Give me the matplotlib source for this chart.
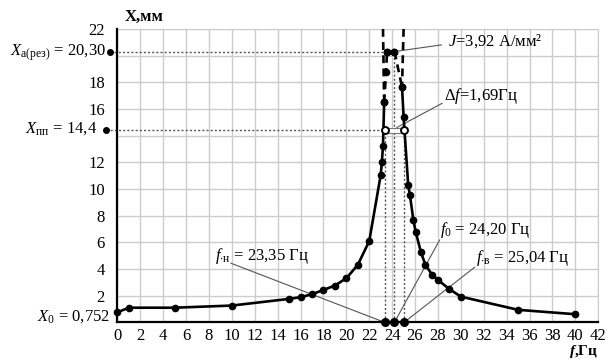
import matplotlib
matplotlib.use("Agg")
import matplotlib.pyplot as plt
from matplotlib.patches import Rectangle

plt.rcParams["font.family"] = ["Liberation Serif", "DejaVu Serif"]
plt.rcParams["mathtext.fontset"] = "custom"
plt.rcParams["mathtext.rm"] = "Liberation Serif"
plt.rcParams["mathtext.it"] = "Liberation Serif:italic"
plt.rcParams["mathtext.bf"] = "Liberation Serif:bold"
plt.rcParams["mathtext.bfit"] = "Liberation Serif:italic:bold"

# resonance curve
f_left = [0, 1, 5, 10, 15, 16, 17, 18, 19, 20, 21, 22, 23.0, 23.1, 23.2, 23.3]
x_left = [0.752, 1.1, 1.1, 1.26, 1.76, 1.89, 2.11, 2.43, 2.76, 3.31, 4.31, 6.1,
          11.05, 12.0, 13.24, 16.5]
f_top_l = [23.3, 23.47, 23.55]
x_top_l = [16.5, 18.8, 20.3]
f_peak = [23.55, 24.2]
x_peak = [20.3, 20.3]
f_top_r = [24.2, 24.86]
x_top_r = [20.3, 17.66]
f_right = [24.86, 25.0, 25.4, 25.55, 25.85, 26.05, 26.5, 26.9, 27.5, 28.0, 29.0,
           30.0, 35.0, 40.0]
x_right = [17.66, 15.4, 10.3, 9.55, 7.68, 6.8, 5.3, 4.31, 3.56, 3.18, 2.49, 1.93,
           0.94, 0.61]

# characteristic values
x_res = 20.30
x_pp = 14.4
x_0 = 0.752
f_low = 23.35
f_0 = 24.20
f_high = 25.04

x_ticks = list(range(0, 43, 2))
y_ticks = list(range(0, 23, 2))
y_ticklabels = ["" if v in (0, 14, 20) else str(v) for v in y_ticks]

fig = plt.figure(figsize=(6.08, 3.61), dpi=100)
ax = fig.add_axes([0.193, 0.107, 0.791, 0.813])
ax.set_xlim(0, 42)
ax.set_ylim(0, 22)
ax.set_xticks(x_ticks)
ax.set_yticks(y_ticks)
ax.set_yticklabels(y_ticklabels)
ax.tick_params(length=0, labelsize=12)
ax.tick_params(axis="y", pad=9)
ax.tick_params(axis="x", pad=4)
ax.grid(True, color="#cccccc", lw=1.0)
ax.set_axisbelow(True)
for s in ("top", "right"):
    ax.spines[s].set_color("#cccccc")
for s in ("left", "bottom"):
    ax.spines[s].set_linewidth(1.6)
    ax.spines[s].set_zorder(5)

lw = 1.9
ms = 4.5
# solid parts of the curve
ax.plot(f_left, x_left, "-o", color="black", lw=lw, ms=ms, zorder=4, clip_on=False)
ax.plot(f_right, x_right, "-o", color="black", lw=lw, ms=ms, zorder=4, clip_on=False)
ax.plot(f_peak, x_peak, "-o", color="black", lw=lw, ms=ms, zorder=4)
# dashed parts near the peak
ax.plot(f_top_l, x_top_l, "--o", color="black", lw=lw, ms=ms, zorder=4,
        dashes=(3, 2))
ax.plot(f_top_r, x_top_r, "--o", color="black", lw=lw, ms=ms, zorder=4,
        dashes=(3, 2))
ax.plot([23.2, 23.3], [22, x_left[-1]], color="black", lw=lw, zorder=4,
        dashes=(3, 2))
ax.plot([25.0, 24.86], [22, x_right[0]], color="black", lw=lw, zorder=4,
        dashes=(3, 2))

# dotted guides
dot_kw = dict(color="#555555", lw=1.0, ls=(0, (1.5, 1.5)), zorder=3)
ax.plot([-0.65, f_0], [x_res, x_res], clip_on=False, **dot_kw)
ax.plot([-1.0, f_low], [x_pp, x_pp], clip_on=False, **dot_kw)
ax.plot([f_low, f_low], [0, x_pp], **dot_kw)
ax.plot([f_0, f_0], [0, x_res], **dot_kw)
ax.plot([f_high, f_high], [0, x_pp], **dot_kw)
ax.plot([-0.65, -1.0], [x_res, x_pp], "o", color="black", ms=4, clip_on=False,
        zorder=6)
ax.plot([f_low, f_0, f_high], [0, 0, 0], "o", color="black", ms=5.5,
        clip_on=False, zorder=6)

# delta-f bar with open circles
ax.add_patch(Rectangle((f_low, x_pp - 0.2), f_high - f_low, 0.4, fc="white",
                       ec="#777777", lw=0.8, zorder=4))
ax.plot([f_low, f_high], [x_pp, x_pp], "o", ms=5, mfc="white", mec="black",
        mew=1.4, zorder=6)

# leader lines
lead = dict(color="#555555", lw=0.8, zorder=3)
ax.plot([f_0, 28.3], [x_res, 20.8], **lead)
ax.plot([24.4, 28.36], [14.6, 16.42], **lead)
ax.plot([9.93, f_low], [4.43, 0], **lead)
ax.plot([28.15, f_0], [6.18, 0], **lead)
ax.plot([31.2, f_high], [4.13, 0], **lead)

fs = 12
ax.text(28.9, 21.1, "$J$=3,92 А/мм²", fontsize=fs, va="center")
ax.text(28.5, 17.0, "Δ$f$=1,69Гц", fontsize=fs, va="center")
ax.text(8.5, 5.0, r"$f_{\cdot\mathrm{н}}$ = 23,35 Гц", fontsize=fs, va="center")
ax.text(28.2, 6.9, r"$f_{0}$ = 24,20 Гц", fontsize=fs, va="center")
ax.text(31.3, 4.8, r"$f_{\cdot\mathrm{в}}$ = 25,04 Гц", fontsize=fs, va="center")

ax.text(-0.95, 20.25, r"$X_{\mathrm{a(рез)}}$ = 20,30", fontsize=fs,
        ha="right", va="center", clip_on=False)
ax.text(-1.8, 14.5, r"$X_{\mathrm{пп}}$ = 14,4", fontsize=fs,
        ha="right", va="center", clip_on=False)
ax.text(-0.6, 0.4, r"$X_{0}$ = 0,752", fontsize=fs, ha="right", va="center",
        clip_on=False)

ax.text(0.6, 22.3, "X,мм", fontsize=12, weight="bold", va="bottom")
fig.text(0.983, 0.004, r"$\mathbfit{f}$,Гц", fontsize=11, weight="bold",
         ha="right", va="bottom")

fig.savefig("out.png", dpi=100)
